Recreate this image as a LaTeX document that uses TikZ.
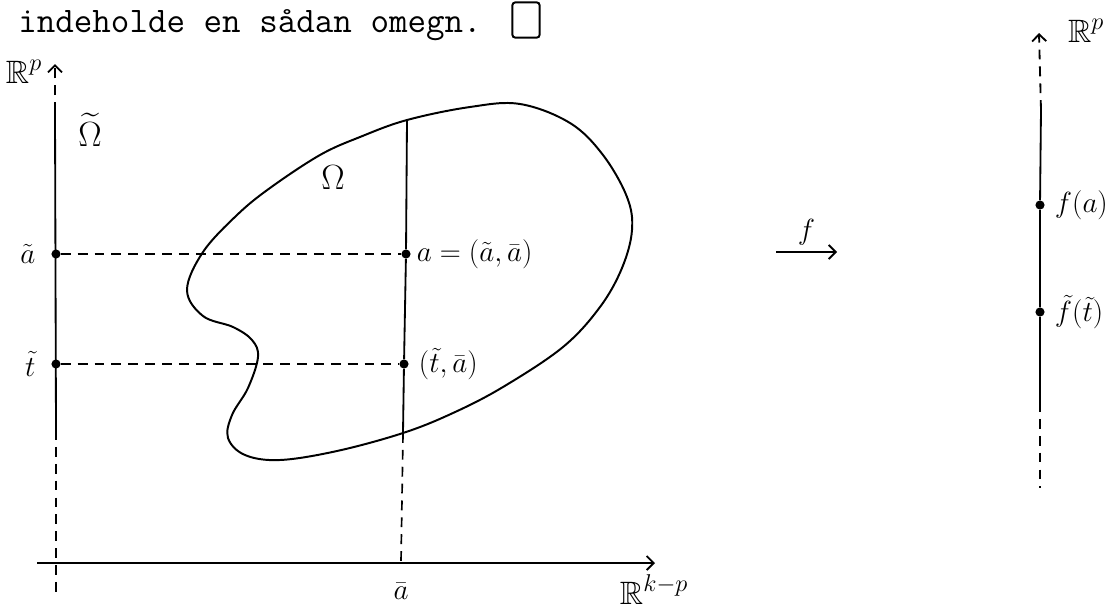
\documentclass[tikz,border=0pt]{standalone}
\usepackage{amsmath}
\usepackage{amssymb}
\usepackage{fontspec}
\usepackage{tikz}
\usetikzlibrary{arrows.meta, positioning}

\begin{document}
\begin{tikzpicture}[
    x=0.025cm, y=-0.025cm,
    axisline/.style={line width=1.3pt},
    dashline/.style={line width=1.2pt, dash pattern=on 7pt off 5pt},
    rim/.style={line width=1.4pt},
    dotnode/.style={circle, fill, inner sep=0pt, minimum size=6.5pt},
    lbl/.style={font=\fontsize{20}{24}\selectfont, inner sep=1pt},
    biglbl/.style={font=\fontsize{23}{27}\selectfont, inner sep=1pt},
    arr/.style={-{Straight Barb[length=5pt, width=10pt]}, line width=1.3pt},
]
\useasboundingbox (0,0) rectangle (1120,607);

% end of the proof line
\node[anchor=base west, inner sep=0pt, font=\ttfamily\fontsize{25.6}{30}\selectfont] (head) at (18,32) {indeholde en sådan omegn.};
\node[draw, line width=1.4pt, rounded corners=2pt, minimum width=0.68cm, minimum height=0.88cm, inner sep=0pt] (qed) at (526,20) {};

% left picture: axes
\coordinate (ytip) at (55,64);
\coordinate (ysolA) at (55,112);
\coordinate (ysolB) at (56,430);
\coordinate (ybot) at (56,593);
\coordinate (xstart) at (37,563);
\coordinate (xtip) at (655,563);
\draw[dashline, arr] (ysolA) -- (ytip);
\draw[axisline] (ysolA) -- (ysolB);
\draw[dashline] (ysolB) -- (ybot);
\draw[arr] (xstart) -- (xtip);
\node[biglbl] (rpleft) at (24,72) {$\mathbb{R}^p$};
\node[biglbl, anchor=north] (rkp) at (654,573) {$\mathbb{R}^{k-p}$};
\node[biglbl] (omtilde) at (90,130) {$\widetilde{\Omega}$};

% the set
\draw[rim] plot[smooth cycle, tension=0.6] coordinates {
    (407,120) (470,107) (520,104) (570,123) (603,155) (627,197) (632,230)
    (622,268) (600,307) (563,347) (503,387) (453,413) (403,433) (337,451)
    (280,460) (245,455) (228,438) (232,415) (248,388) (258,357) (252,340)
    (233,327) (203,316) (187,290) (203,252) (237,215) (270,188) (320,155)
    (360,137)};
\node[biglbl] (om) at (333,178) {$\Omega$};

% fibre over abar
\coordinate (ftop) at (407,120);
\coordinate (fbot) at (403,433);
\coordinate (abarx) at (401,563);
\node[dotnode] (pa) at (406,254) {};
\node[dotnode] (pt) at (404,364) {};
\node[dotnode] (at) at (56,254) {};
\node[dotnode] (tt) at (56,364) {};
\draw[axisline] (ftop) -- (pa) -- (pt) -- (fbot);
\draw[dashline] (fbot) -- (abarx);
\draw[dashline] (at) -- (pa);
\draw[dashline] (tt) -- (pt);
\node[lbl, left=10pt of at] (atl) {$\tilde a$};
\node[lbl, left=10pt of tt] (ttl) {$\tilde t$};
\node[lbl, right=3pt of pa] (pal) {$a = (\tilde a,\bar a)$};
\node[lbl, right=6pt of pt] (ptl) {$(\tilde t,\bar a)$};
\node[lbl] (abarl) at (401,591) {$\bar a$};

% the map
\coordinate (fstart) at (776,252);
\coordinate (fend) at (837,252);
\draw[arr] (fstart) -- node[lbl, above=3pt] (fl) {$f$} (fend);

% right picture
\coordinate (rtip) at (1039,33);
\coordinate (rsolA) at (1041,110);
\coordinate (rsolB) at (1040,402);
\coordinate (rbot) at (1040,488);
\node[dotnode] (fa) at (1040,205) {};
\node[dotnode] (ft) at (1040,312) {};
\draw[dashline, arr] (rsolA) -- (rtip);
\draw[axisline] (rsolA) -- (fa) -- (ft) -- (rsolB);
\draw[dashline] (rsolB) -- (rbot);
\node[biglbl] (rpright) at (1086,31) {$\mathbb{R}^p$};
\node[lbl, right=6pt of fa] (fal) {$f(a)$};
\node[lbl, right=6pt of ft] (ftl) {$\tilde f(\tilde t)$};
\end{tikzpicture}
\end{document}
